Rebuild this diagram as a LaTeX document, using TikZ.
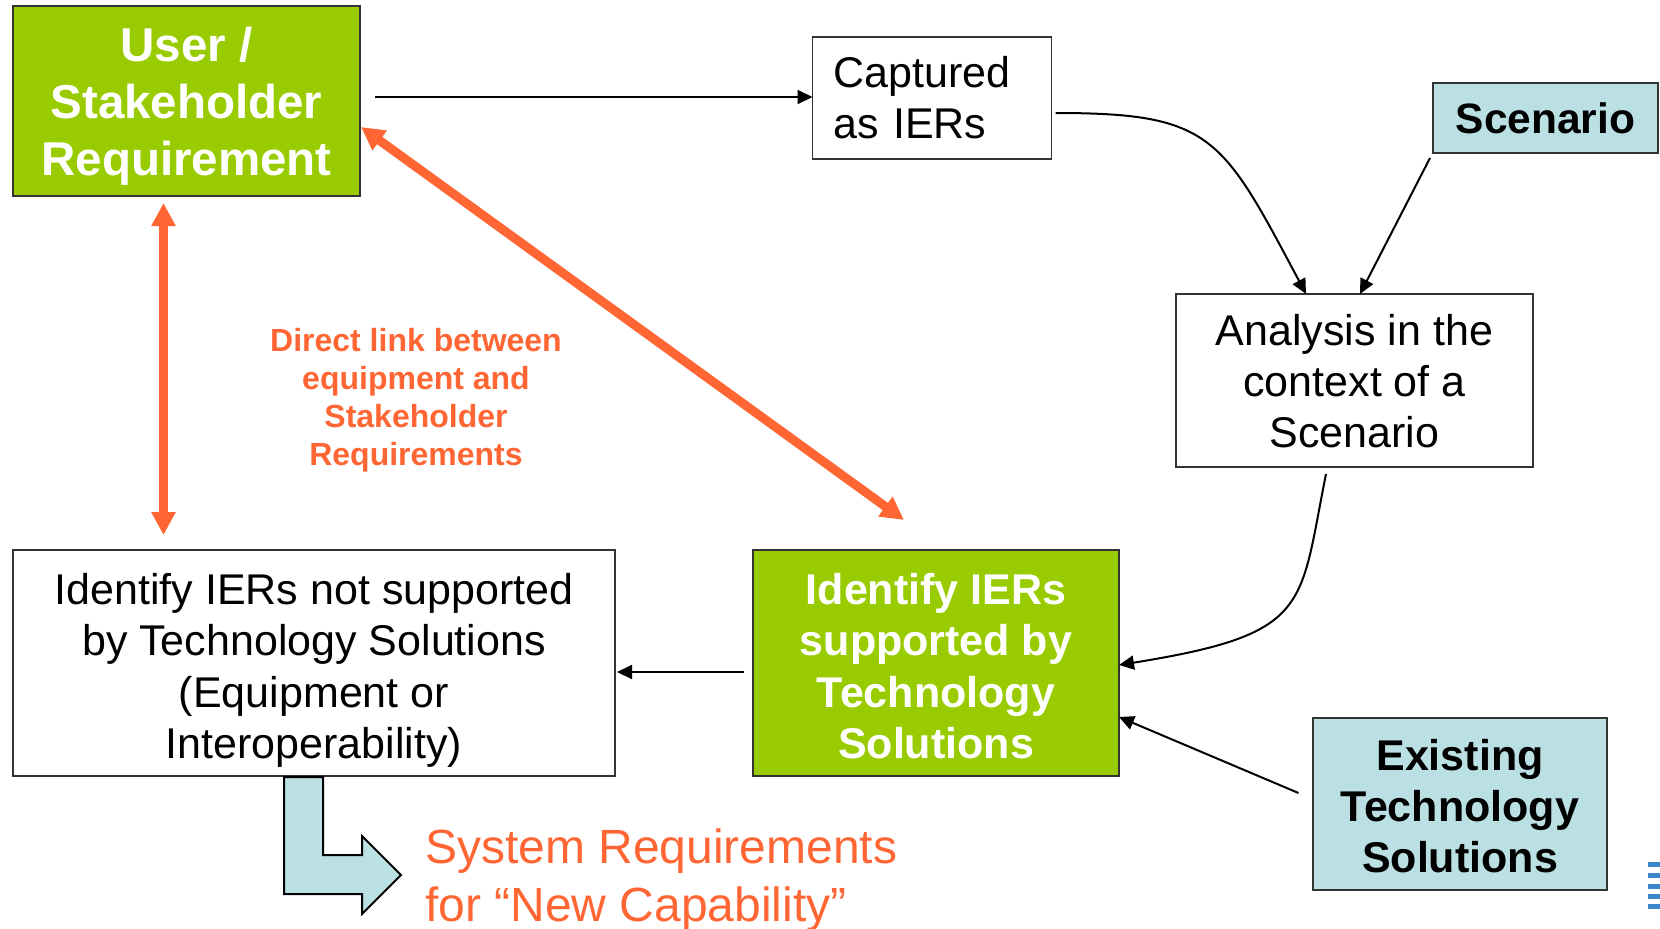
\documentclass[tikz,border=0pt]{standalone}
\usepackage{fontspec}
\setsansfont{Liberation Sans}
\usetikzlibrary{arrows.meta}
\usetikzlibrary{calc}
\usetikzlibrary{positioning}
\tikzset{every picture/.style={/utils/exec={\sffamily}}}
\definecolor{stkgreen}{HTML}{99CC00}
\definecolor{solblue}{HTML}{BBE0E3}
\definecolor{linkorange}{HTML}{FF6633}
\definecolor{boxline}{HTML}{333333}
\definecolor{logoblue}{HTML}{3A86C8}

\begin{document}
\begin{tikzpicture}[x=1pt, y=-1pt,
    flow/.style={-{Triangle[length=15pt,width=14pt]}, line width=2pt},
    direct/.style={{Triangle[length=23pt,width=23pt]}-{Triangle[length=23pt,width=23pt]},
      line width=9pt, draw=linkorange},
    flat/.style={text depth=0pt}]
  \useasboundingbox (0,0) rectangle (1660,929);

  \begin{scope}[every node/.style={draw=boxline, line width=1.5pt, inner sep=0pt, outer sep=0pt,
      align=center, font=\fontsize{43}{51}\selectfont}]
    \node [flat, fill=stkgreen, text=white, font=\bfseries\fontsize{47.5}{57}\selectfont,
      minimum width=347pt, minimum height=190pt] (user) at (186.5,101) {User /\\Stakeholder\\Requirement};
    \node [align=left, inner xsep=21pt, text width=197pt, minimum height=122pt] (capt) at (932,98) {Captured\\as IERs};
    \node [flat, fill=solblue, font=\bfseries\fontsize{42.5}{51}\selectfont,
      minimum width=225pt, minimum height=70pt] (scen) at (1545.5,118) {Scenario};
    \node [flat, minimum width=357pt, minimum height=173pt] (anal) at (1354.5,380.5) {Analysis in the\\context of a\\Scenario};

    \node [flat, text height=191pt, font=\fontsize{43}{51.5}\selectfont,
      minimum width=602pt, minimum height=226pt] (notsup) at (314,663)
      {Identify IERs not supported\\by Technology Solutions\\(Equipment or\\Interoperability)};
    \node [right=138pt of notsup, flat, text height=191pt, fill=stkgreen, text=white,
      font=\bfseries\fontsize{43}{51.5}\selectfont,
      minimum width=366pt, minimum height=226pt] (sup) {Identify IERs\\supported by\\Technology\\Solutions};
    \node [flat, text height=137pt, fill=solblue, font=\bfseries\fontsize{43}{51}\selectfont,
      minimum width=294pt, minimum height=172pt] (exist) at (1460,804) {Existing\\Technology\\Solutions};
  \end{scope}

  \node [text=linkorange, font=\bfseries\fontsize{32}{38}\selectfont, align=center] (directlbl) at (416,400)
    {Direct link between\\equipment and\\Stakeholder\\Requirements};
  \node [text=linkorange, font=\fontsize{48}{58}\selectfont, align=left, anchor=west, inner sep=0pt] (sysreq) at (425,880)
    {System Requirements\\for “New Capability”};

  \draw [flow] ($(user.east)+(15,-4)$) -- ($(capt.west)+(0,-1)$);
  \draw [flow] ($(capt.east)+(4,15)$) .. controls (1212,113) and (1222,136) .. ($(anal.north)+(-48.5,0)$);
  \draw [flow] ($(scen.south west)+(-3,5)$) -- ($(anal.north)+(5.5,0)$);
  \draw [flow] ($(anal.south)+(-28.5,7)$) .. controls (1299,608) and (1312,634) .. ($(sup.east)+(0,2)$);
  \draw [flow] ($(exist.west)+(-14.5,-11)$) -- ($(sup.east)+(0,54)$);
  \draw [flow] ($(sup.west)+(-9,9)$) -- ($(notsup.east)+(2,9)$);

  \draw [direct] ($(user.south)+(-23,7)$) -- ($(notsup.north)+(-150.5,-15)$);
  \draw [direct] ($(user.east)+(1,26)$) -- ($(sup.north)+(-32,-30)$);

  \filldraw [fill=solblue, draw=black, line width=2pt] (284,777) -- (323,777) -- (323,855) -- (362,855)
    -- (362,836) -- (401,875) -- (362,914) -- (362,894) -- (284,894) -- cycle;

  \foreach \y in {862,873,883.5,893.5,903.5}
    \fill [logoblue] (1648,\y) rectangle ++(12,5);
\end{tikzpicture}
\end{document}
